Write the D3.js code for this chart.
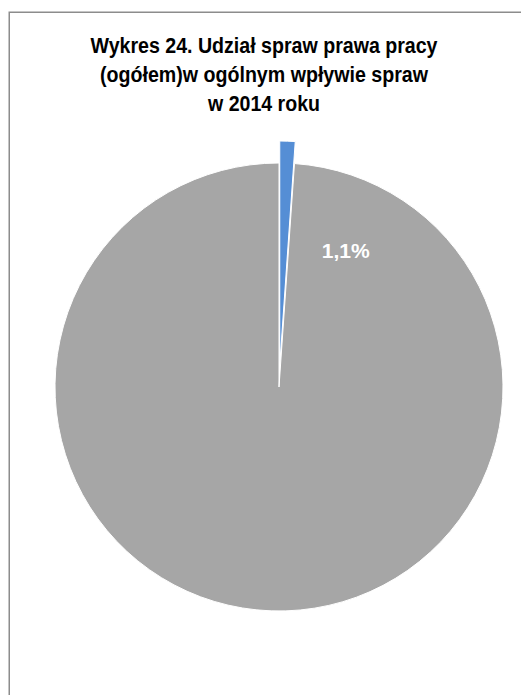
<!DOCTYPE html>
<html>
<head>
<meta charset="utf-8">
<script src="https://cdn.jsdelivr.net/npm/d3@7"></script>
<style>
  html, body { margin: 0; padding: 0; background: #fff; }
  svg { display: block; }
</style>
</head>
<body>
<svg id="chart" width="521" height="695"></svg>
<script>
const categories = ["Sprawy prawa pracy (ogółem)", "Pozostałe sprawy"];
const values = [1.1, 98.9];
const colors = ["#558ED5", "#A6A6A6"];
const labels = ["1,1%", ""];
const titleLines = ["Wykres 24. Udział spraw prawa pracy", "(ogółem)w ogólnym wpływie spraw", "w 2014 roku"];
const titleWidths = [347, 328, 112];

const svg = d3.select("#chart");
const W = 521, H = 695;

// outer chart border (extends beyond the visible area to right/bottom)
svg.append("rect")
  .attr("x", 9.25).attr("y", 12.25)
  .attr("width", W + 20).attr("height", H + 20)
  .attr("fill", "#fff")
  .attr("stroke", "#8C8C8C")
  .attr("stroke-width", 1.5);

// title
const title = svg.append("text")
  .attr("text-anchor", "middle")
  .attr("font-family", "'Liberation Sans', Arial, sans-serif")
  .attr("font-weight", "bold")
  .attr("font-size", 22.5)
  .attr("fill", "#000");
titleLines.forEach((t, i) => {
  title.append("tspan")
    .attr("x", 264)
    .attr("y", 52.5 + i * 29)
    .attr("textLength", titleWidths[i])
    .attr("lengthAdjust", "spacingAndGlyphs")
    .text(t);
});

// pie
const cx = 279, cy = 387, R = 224, explode = 22;
const g = svg.append("g").attr("transform", `translate(${cx},${cy})`);

const pie = d3.pie().sort(null).value(d => d)(values);
const arc = d3.arc().innerRadius(0).outerRadius(R);

g.selectAll("path.slice")
  .data(pie)
  .join("path")
  .attr("class", "slice")
  .attr("d", arc)
  .attr("fill", (d, i) => colors[i])
  .attr("stroke", "#fff")
  .attr("stroke-width", 1)
  .attr("transform", (d, i) => {
    if (i !== 0) return null;
    const a = (d.startAngle + d.endAngle) / 2;
    return `translate(${explode * Math.sin(a)},${-explode * Math.cos(a)})`;
  });

// data label for the small slice (placed on the large slice, as in the original)
const labelAngle = 26 * Math.PI / 180;
const labelR = R * 0.68;
g.append("text")
  .attr("x", labelR * Math.sin(labelAngle))
  .attr("y", -labelR * Math.cos(labelAngle) + 7.5)
  .attr("text-anchor", "middle")
  .attr("font-family", "'Liberation Sans', Arial, sans-serif")
  .attr("font-weight", "bold")
  .attr("font-size", 20.5)
  .attr("textLength", 48)
  .attr("lengthAdjust", "spacingAndGlyphs")
  .attr("fill", "#fff")
  .text(labels[0]);
</script>
</body>
</html>
